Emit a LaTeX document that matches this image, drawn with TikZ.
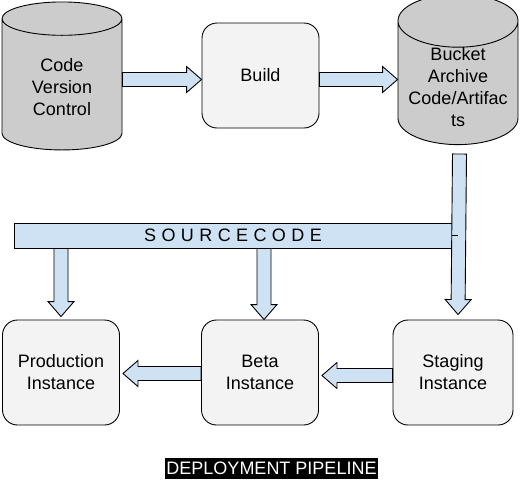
\documentclass[tikz,border=0pt]{standalone}
\usepackage{fontspec}
\setmainfont{Liberation Sans}
\usetikzlibrary{shapes.geometric,calc}
\definecolor{flowblue}{HTML}{CFE2F3}
\definecolor{storegray}{HTML}{CCCCCC}
\definecolor{boxgray}{HTML}{F3F3F3}
\newcommand{\flow}[2]{%
  \draw[flowarrow] let \p1=(#1), \p2=(#2), \n1={atan2(\y2-\y1,\x2-\x1)}, \n2={veclen(\x2-\x1,\y2-\y1)} in
    [shift={(\p1)}, rotate=\n1] (0,-7) -- (\n2-15,-7) -- (\n2-15,-13) -- (\n2,0) -- (\n2-15,13) -- (\n2-15,7) -- (0,7) -- cycle;}
\begin{document}
\begin{tikzpicture}[x=1pt, y=1pt, line width=0.9pt,
  txt/.style = {font=\fontsize{18}{22}\selectfont, align=center},
  store/.style = {txt, draw, cylinder, shape border rotate=90, aspect=0.5, fill=storegray, minimum width=120pt, minimum height=148pt, inner ysep=0pt},
  stage/.style = {txt, draw, rounded corners=15pt, fill=boxgray, minimum width=117pt, minimum height=105pt},
  flowarrow/.style = {draw=black, fill=flowblue, line width=0.9pt, line join=miter}]
\useasboundingbox (0,0) rectangle (521,-501);
\node[store, anchor=north] (cvc) at (62,-1.5) {Code\\Version\\Control};
\node[stage] (build) at (260.5,-75.5) {Build};
\node[store] (bucket) at ($(cvc.center)+(396,0)$) {Bucket\\Archive\\Code/Artifac\\ts};
\node[draw, fill=flowblue, minimum width=438pt, minimum height=25pt, inner sep=0pt, font=\fontsize{18}{22}\selectfont\addfontfeature{LetterSpace=30}] (src) at (233,-235.5) {SOURCECODE};
\node[stage] (prod) at (61,-372.5) {Production\\Instance};
\node[stage] (beta) at (260,-372.5) {Beta\\Instance};
\node[stage, minimum width=120pt] (staging) at (453,-372.5) {Staging\\Instance};
\node[fill=black, text=white, inner xsep=1pt, inner ysep=0pt, minimum height=21pt, font=\fontsize{18}{20}\selectfont] (title) at (271.5,-468.5) {DEPLOYMENT PIPELINE};

\flow{[yshift=-4pt]build.west -| cvc.east}{[yshift=-4pt]build.west}
\flow{[yshift=-4pt]build.east}{[yshift=-4pt]build.east -| bucket.west}
\flow{[xshift=1.5pt]bucket.south |- 0,-154}{[yshift=5pt]bucket.south |- staging.north}
\flow{src.south -| prod.north}{[yshift=3pt]prod.north}
\flow{[xshift=4pt]src.south -| beta.north}{[xshift=4pt]beta.north}
\flow{[yshift=-3pt]staging.west}{[xshift=3pt,yshift=-3pt]beta.east}
\flow{[yshift=-1pt]beta.west}{[xshift=3pt,yshift=-1pt]prod.east}
\draw (src.east) -- ++(6,0);
\end{tikzpicture}
\end{document}
